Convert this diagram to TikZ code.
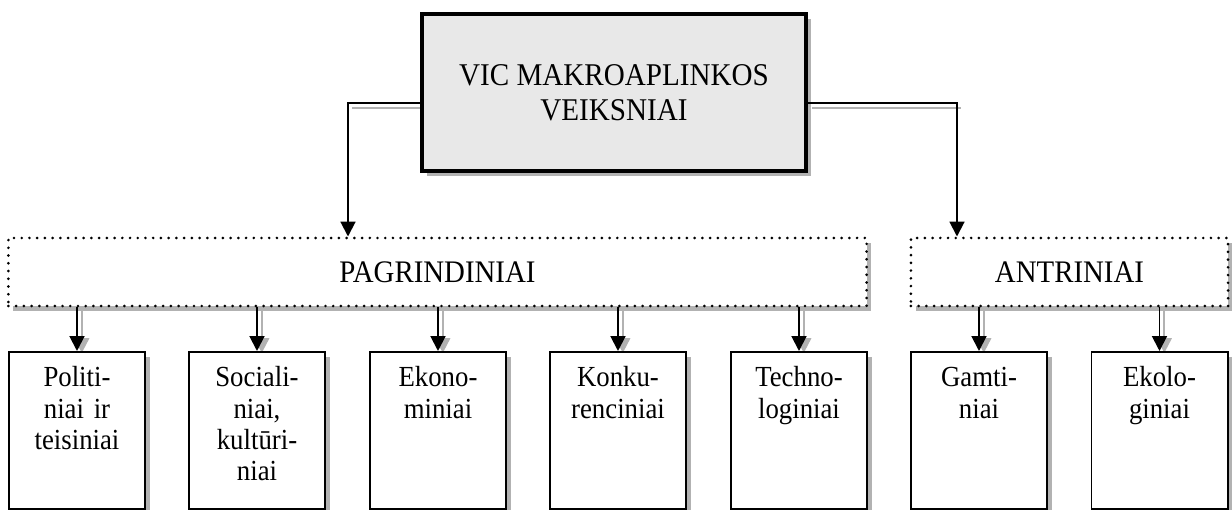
\documentclass[tikz,border=0pt]{standalone}
\usepackage{fontspec}
\setmainfont{Liberation Serif}[FakeStretch=0.92]
\usetikzlibrary{arrows.meta,shadows,backgrounds}
\definecolor{boxgray}{RGB}{232,232,232}
\definecolor{shadowgray}{RGB}{178,178,178}

\begin{document}
\begin{tikzpicture}[x=0.025cm,y=-0.025cm,
  mainbox/.style={rectangle,draw,line width=2.8pt,fill=boxgray,align=center,
                  minimum width=9.6cm,minimum height=3.925cm,
                  font=\fontsize{22.5}{24.8}\selectfont,
                  drop shadow={shadow xshift=0.12cm,shadow yshift=-0.12cm,
                               fill=shadowgray,opacity=1}},
  groupbox/.style={rectangle,draw,line width=2.1pt,dash pattern=on 0pt off 5.5pt,
                   line cap=round,fill=white,minimum height=1.7cm,
                   font=\fontsize{22.3}{26}\selectfont,
                   drop shadow={shadow xshift=0.12cm,shadow yshift=-0.12cm,
                                fill=shadowgray,opacity=1}},
  factorbox/.style={rectangle,draw,line width=1.4pt,fill=white,anchor=north,
                    minimum width=3.4cm,text width=3.2cm,align=center,inner sep=0pt,
                    text height=0.875cm,text depth=3.05cm,
                    font=\fontsize{20.7}{22.2}\selectfont,
                    drop shadow={shadow xshift=0.12cm,shadow yshift=-0.12cm,
                                 fill=shadowgray,opacity=1}},
  arrow/.style={-{Triangle[length=10.5pt,width=10.5pt]},line width=1.4pt},
  shadowarrow/.style={arrow,shadowgray,transform canvas={shift={(0.12cm,-0.05cm)}}},
  shadowline/.style={line width=1.4pt,shadowgray,transform canvas={shift={(0.1cm,-0.125cm)}}}]
\useasboundingbox (0,0) rectangle (1232,510);
\node[mainbox] (main) at (614,92.5) {VIC MAKROAPLINKOS\\VEIKSNIAI};
\node[groupbox,minimum width=21.45cm] (pagr) at (437.5,272) {PAGRINDINIAI};
\node[groupbox,minimum width=7.925cm] (antr) at (1069.5,272) {ANTRINIAI};
\node[factorbox] (f1) at (77,351) {Politi-\\niai ir\\teisiniai};
\node[factorbox] (f2) at (257,351) {Sociali-\\niai,\\kultūri-\\niai};
\node[factorbox] (f3) at (438,351) {Ekono-\\miniai};
\node[factorbox] (f4) at (618,351) {Konku-\\renciniai};
\node[factorbox] (f5) at (799,351) {Techno-\\loginiai};
\node[factorbox] (f6) at (979,351) {Gamti-\\niai};
\node[factorbox] (f7) at (1159.5,351) {Ekolo-\\giniai};
\coordinate (lk) at (348,103);
\coordinate (rk) at (957,103);
\begin{scope}[on background layer]
\draw[shadowline] (main.west |- lk) -- (lk);
\draw[shadowline] (main.east |- rk) -- (rk);
\draw[shadowarrow] (pagr.south -| f1.north) -- (f1.north);
\draw[shadowarrow] (pagr.south -| f2.north) -- (f2.north);
\draw[shadowarrow] (pagr.south -| f3.north) -- (f3.north);
\draw[shadowarrow] (pagr.south -| f4.north) -- (f4.north);
\draw[shadowarrow] (pagr.south -| f5.north) -- (f5.north);
\draw[shadowarrow] (antr.south -| f6.north) -- (f6.north);
\draw[shadowarrow] (antr.south -| f7.north) -- (f7.north);
\end{scope}
\draw[arrow] (main.west |- lk) -- (lk) -- (lk |- pagr.north);
\draw[arrow] (main.east |- rk) -- (rk) -- (rk |- antr.north);
\draw[arrow] (pagr.south -| f1.north) -- (f1.north);
\draw[arrow] (pagr.south -| f2.north) -- (f2.north);
\draw[arrow] (pagr.south -| f3.north) -- (f3.north);
\draw[arrow] (pagr.south -| f4.north) -- (f4.north);
\draw[arrow] (pagr.south -| f5.north) -- (f5.north);
\draw[arrow] (antr.south -| f6.north) -- (f6.north);
\draw[arrow] (antr.south -| f7.north) -- (f7.north);
\end{tikzpicture}
\end{document}
